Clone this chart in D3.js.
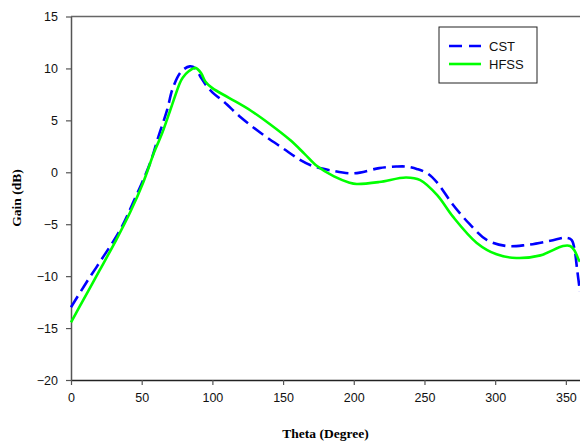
<!DOCTYPE html>
<html>
<head>
<meta charset="utf-8">
<script src="https://cdn.jsdelivr.net/npm/d3@7"></script>
<style>
  body { margin: 0; background: #fff; }
  svg { display: block; }
</style>
</head>
<body>
<svg id="chart"></svg>
<script>
// CST (dashed blue)
const cstTheta = [0, 10, 23, 35, 44, 56, 62, 68, 72, 78, 84, 88, 92, 96, 100, 108, 120, 134, 150, 162, 171, 183, 200, 218, 230, 237, 245, 252, 259, 270, 282, 294, 308, 322, 339, 350, 354, 356, 358, 360];
const cstGain = [-13.0, -10.8, -8.1, -5.5, -2.9, 0.9, 3.5, 6.0, 8.1, 9.7, 10.2, 10.0, 9.1, 8.3, 7.7, 6.8, 5.3, 3.8, 2.3, 1.2, 0.6, 0.2, -0.1, 0.4, 0.55, 0.55, 0.3, -0.1, -1.0, -3.1, -5.0, -6.5, -7.1, -7.0, -6.6, -6.3, -6.5, -7.3, -9.4, -11.5];

// HFSS (solid green)
const hfssTheta = [0, 5, 20, 32, 42, 51, 59, 64, 70, 77, 79, 83, 88, 92, 95, 100, 112, 127, 141, 155, 165, 174, 186, 197, 202, 218, 237, 247, 259, 270, 287, 301, 315, 332, 348, 353, 356, 359, 360];
const hfssGain = [-14.45, -13.2, -9.5, -6.5, -3.8, -1.0, 2.0, 3.6, 5.9, 8.6, 9.1, 9.7, 10.05, 9.55, 8.75, 8.1, 7.15, 5.95, 4.6, 3.1, 1.8, 0.6, -0.4, -1.0, -1.13, -0.94, -0.5, -0.75, -2.2, -4.25, -6.8, -7.9, -8.25, -8.0, -7.1, -7.1, -7.5, -8.4, -8.6];

const xTicks = [0, 50, 100, 150, 200, 250, 300, 350];
const yTicks = [-20, -15, -10, -5, 0, 5, 10, 15];

const series = [
  { name: "CST", theta: cstTheta, gain: cstGain, color: "#0000ff", dash: "13,6" },
  { name: "HFSS", theta: hfssTheta, gain: hfssGain, color: "#00ff00", dash: null }
];

const W = 580, H = 443;
const margin = { top: 16.5, right: 0, bottom: 63, left: 71 };
const width = W - margin.left - margin.right;
const height = H - margin.top - margin.bottom;

const svg = d3.select("#chart")
  .attr("width", W)
  .attr("height", H)
  .append("g")
  .attr("transform", `translate(${margin.left},${margin.top})`);

const x = d3.scaleLinear().domain([0, 360]).range([0, width]);
const y = d3.scaleLinear().domain([-20, 15]).range([height, 0]);

// top frame line
svg.append("line")
  .attr("x1", 0).attr("x2", width)
  .attr("y1", 0).attr("y2", 0)
  .attr("stroke", "#666").attr("stroke-width", 1.5);

// Axes
const xAxis = svg.append("g")
  .attr("transform", `translate(0,${height})`)
  .call(d3.axisBottom(x).tickValues(xTicks).tickSize(5).tickPadding(8).tickSizeOuter(0));

const yAxis = svg.append("g")
  .call(d3.axisLeft(y).tickValues(yTicks).tickSize(5).tickPadding(8).tickSizeOuter(0));

[xAxis, yAxis].forEach(a => {
  a.select(".domain").attr("stroke", "#555").attr("stroke-width", 1.5);
  a.selectAll(".tick line").attr("stroke", "#555").attr("stroke-width", 1.2);
  a.selectAll(".tick text")
    .attr("font-family", "Liberation Sans, Arial, sans-serif")
    .attr("font-size", 12.5)
    .attr("fill", "#111");
});
xAxis.select(".domain").attr("stroke", "#222");

// Lines
const line = d3.line()
  .x(d => x(d[0]))
  .y(d => y(d[1]))
  .curve(d3.curveCatmullRom.alpha(0.5));

series.forEach(s => {
  const pts = s.theta.map((t, i) => [t, s.gain[i]]);
  svg.append("path")
    .datum(pts)
    .attr("fill", "none")
    .attr("stroke", s.color)
    .attr("stroke-width", 2.6)
    .attr("stroke-dasharray", s.dash)
    .attr("d", line);
});

// Legend
const legend = svg.append("g")
  .attr("transform", `translate(${439 - margin.left},${27 - margin.top})`);

legend.append("rect")
  .attr("width", 98).attr("height", 56)
  .attr("fill", "#fff").attr("stroke", "#222").attr("stroke-width", 1);

series.forEach((s, i) => {
  const ly = 19 + i * 18;
  legend.append("line")
    .attr("x1", 10).attr("x2", 42)
    .attr("y1", ly).attr("y2", ly)
    .attr("stroke", s.color).attr("stroke-width", 2.6)
    .attr("stroke-dasharray", s.dash ? "13,7" : null);
  legend.append("text")
    .attr("x", 50).attr("y", ly + 4.5)
    .attr("font-family", "Liberation Sans, Arial, sans-serif")
    .attr("font-size", 13)
    .attr("fill", "#111")
    .text(s.name);
});

// Axis titles
svg.append("text")
  .attr("x", width / 2)
  .attr("y", height + 58)
  .attr("text-anchor", "middle")
  .attr("font-family", "Liberation Serif, Times New Roman, serif")
  .attr("font-weight", "bold")
  .attr("font-size", 13.5)
  .text("Theta (Degree)");

svg.append("text")
  .attr("x", -(198 - margin.top))
  .attr("y", -50)
  .attr("transform", "rotate(-90)")
  .attr("text-anchor", "middle")
  .attr("font-family", "Liberation Serif, Times New Roman, serif")
  .attr("font-weight", "bold")
  .attr("font-size", 13.5)
  .text("Gain (dB)");
</script>
</body>
</html>
